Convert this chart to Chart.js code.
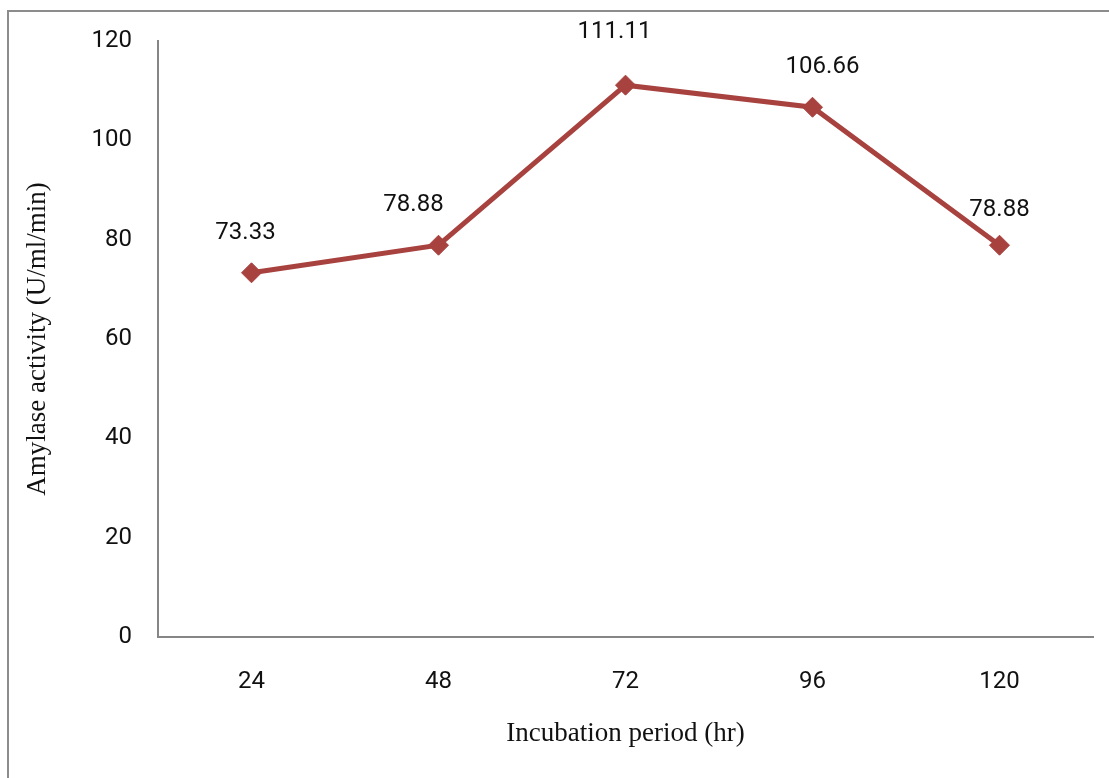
<!DOCTYPE html>
<html>
<head>
<meta charset="utf-8">
<script src="https://cdn.jsdelivr.net/npm/chart.js@4"></script>
<style>
  html, body { margin: 0; padding: 0; background: #fff; }
  #wrap { position: relative; width: 1109px; height: 778px; overflow: hidden; }
  #frame { position: absolute; left: 7px; top: 10px; width: 1200px; height: 900px;
           border-left: 2px solid #8c8c8c; border-top: 2px solid #8c8c8c; box-sizing: border-box; }
  canvas { position: absolute; left: 0; top: 0; }
</style>
</head>
<body>
<div id="wrap">
  <div id="frame"></div>
  <canvas id="c" width="1109" height="778"></canvas>
</div>
<script>
const categories = ["24", "48", "72", "96", "120"];
const amylaseActivity = [73.33, 78.88, 111.11, 106.66, 78.88];
const valueLabels = ["73.33", "78.88", "111.11", "106.66", "78.88"];
const xTitle = "Incubation period (hr)";
const yTitle = "Amylase activity (U/ml/min)";

const lineColor = "#A8423F";

const labelPlugin = {
  id: "valueLabels",
  afterDatasetsDraw(chart, args, opts) {
    const ctx = chart.ctx;
    const meta = chart.getDatasetMeta(0);
    ctx.save();
    ctx.font = opts.font;
    ctx.fillStyle = opts.color;
    ctx.textAlign = "center";
    ctx.textBaseline = "middle";
    meta.data.forEach((pt, i) => {
      const off = opts.offsets[i] || [0, -40];
      ctx.fillText(valueLabels[i], pt.x + off[0], pt.y + off[1]);
    });
    ctx.restore();
  }
};

new Chart(document.getElementById("c"), {
  type: "line",
  data: {
    labels: categories,
    datasets: [{
      data: amylaseActivity,
      borderColor: lineColor,
      backgroundColor: lineColor,
      borderWidth: 5,
      tension: 0,
      pointStyle: "rectRot",
      pointRadius: 10,
      pointBorderWidth: 1,
      pointBackgroundColor: lineColor,
      pointBorderColor: lineColor,
      clip: false
    }]
  },
  options: {
    responsive: false,
    animation: false,
    devicePixelRatio: 1,
    layout: { padding: { left: 0, right: 16, top: 41, bottom: 0 } },
    plugins: {
      legend: { display: false },
      tooltip: { enabled: false },
      valueLabels: {
        font: "24px Roboto",
        color: "#111",
        offsets: [[-6, -40], [-25, -40], [-11, -53], [10, -40], [0, -35]]
      }
    },
    scales: {
      x: {
        type: "category",
        offset: true,
        grid: { display: false, drawTicks: false },
        border: { display: true, color: "#868686", width: 2 },
        ticks: { color: "#111", font: { family: "Roboto", size: 24 }, padding: 31, maxRotation: 0 },
        title: {
          display: true, text: xTitle, color: "#111",
          font: { family: "Liberation Serif", size: 27 },
          padding: { top: 0, bottom: 28 }
        },
        afterFit(scale) { scale.height = 141; }
      },
      y: {
        min: 0, max: 120,
        grid: { display: false, drawTicks: false },
        border: { display: true, color: "#868686", width: 2 },
        ticks: { stepSize: 20, color: "#111", font: { family: "Roboto", size: 24 }, padding: 26 },
        title: {
          display: true, text: yTitle, color: "#111",
          font: { family: "Liberation Serif", size: 27 },
          padding: { top: 22, bottom: 0 }
        },
        afterFit(scale) { scale.width = 158; }
      }
    }
  },
  plugins: [labelPlugin]
});
</script>
</body>
</html>
